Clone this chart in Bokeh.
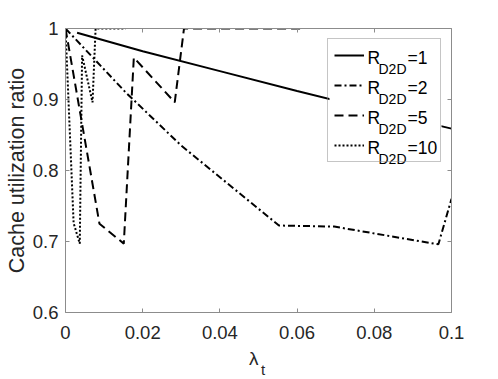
from bokeh.plotting import figure
from bokeh.models import (LinearAxis, FixedTicker, Label, Legend, LegendItem, Range1d, Div,
                          BoxAnnotation)
from bokeh.layouts import column
from bokeh.embed import file_html
from bokeh.resources import INLINE

# ---- data ----
x_ticks = [0, 0.02, 0.04, 0.06, 0.08, 0.1]
x_tick_labels = ["0", "0.02", "0.04", "0.06", "0.08", "0.1"]
y_ticks = [0.6, 0.7, 0.8, 0.9, 1.0]
y_tick_labels = ["0.6", "0.7", "0.8", "0.9", "1"]

series_values = ["1", "2", "5", "10"]

lam_r1 = [0.003, 0.02, 0.04, 0.06, 0.08, 0.1]
util_r1 = [0.994, 0.968, 0.940, 0.912, 0.885, 0.859]

lam_r2 = [0.0, 0.0156, 0.030, 0.0553, 0.0696, 0.0966, 0.1]
util_r2 = [1.0, 0.910, 0.835, 0.7225, 0.721, 0.696, 0.760]

lam_r5 = [0.0, 0.0088, 0.0151, 0.0177, 0.0283, 0.0307, 0.0618]
util_r5 = [1.0, 0.725, 0.697, 0.959, 0.896, 1.0, 1.0]

lam_r10 = [0.0, 0.0021, 0.0037, 0.0043, 0.0070, 0.0078, 0.0156]
util_r10 = [1.0, 0.726, 0.697, 0.962, 0.896, 1.0, 1.0]

FONT = "Liberation Sans"
TXT = "#262626"
AX = "#8c8c8c"
FIG_H = 347

p = figure(width=490, height=FIG_H, output_backend="svg", toolbar_location=None,
           x_range=Range1d(0, 0.1), y_range=Range1d(0.6, 1.0),
           min_border_left=65, min_border_right=39, min_border_top=28,
           min_border_bottom=35)
p.background_fill_color = "white"
p.border_fill_color = "white"
p.outline_line_color = None
p.xgrid.visible = False
p.ygrid.visible = False

def style_axis(ax, ticks, labels, show_labels=True):
    ax.ticker = FixedTicker(ticks=ticks)
    ax.major_label_overrides = {t: l for t, l in zip(ticks, labels)}
    ax.minor_tick_line_color = None
    ax.major_tick_in = 4
    ax.major_tick_out = 0
    ax.major_tick_line_color = AX
    ax.axis_line_color = AX
    ax.axis_line_width = 1
    ax.major_label_text_font = FONT
    ax.major_label_text_color = TXT
    if show_labels:
        ax.major_label_text_font_size = "18.5px"
    else:
        ax.major_label_text_font_size = "0px"
        ax.major_label_standoff = 0

style_axis(p.xaxis[0], x_ticks, x_tick_labels)
style_axis(p.yaxis[0], y_ticks, y_tick_labels)
p.xaxis[0].major_label_standoff = 13
p.yaxis[0].major_label_standoff = 7

p.yaxis[0].axis_label = "Cache utilization ratio"
p.yaxis[0].axis_label_text_font = FONT
p.yaxis[0].axis_label_text_font_size = "21.5px"
p.yaxis[0].axis_label_text_font_style = "normal"
p.yaxis[0].axis_label_text_color = TXT
p.yaxis[0].axis_label_standoff = 1

top_ax = LinearAxis()
right_ax = LinearAxis()
style_axis(top_ax, x_ticks, x_tick_labels, show_labels=False)
style_axis(right_ax, y_ticks, y_tick_labels, show_labels=False)
p.add_layout(top_ax, "above")
p.add_layout(right_ax, "right")

r1 = p.line(lam_r1, util_r1, line_color="black", line_width=2)
r2 = p.line(lam_r2, util_r2, line_color="black", line_width=2, line_dash="7 3 2 3")
r5 = p.line(lam_r5, util_r5, line_color="black", line_width=2, line_dash="9 5")
r10 = p.line(lam_r10, util_r10, line_color="black", line_width=2, line_dash="2 2")

# white backing for the legend (legend itself is transparent so texts stay visible)
LEG_L, LEG_R, LEG_T, LEG_B = 264, 376, 274, 152  # frame-relative screen px
p.add_layout(BoxAnnotation(left=LEG_L, right=LEG_R, top=LEG_T, bottom=LEG_B,
                           left_units="screen", right_units="screen",
                           top_units="screen", bottom_units="screen",
                           fill_color="white", fill_alpha=1.0, line_color=None,
                           level="annotation"))

legend = Legend(items=[LegendItem(label=" ", renderers=[r]) for r in (r1, r2, r5, r10)],
                location="top_right", margin=10, padding=6, spacing=10,
                glyph_width=30, glyph_height=20, label_height=20, label_width=66,
                label_standoff=4, label_text_font_size="10px",
                border_line_color=AX, border_line_width=1,
                background_fill_color="white", background_fill_alpha=0.0)
p.add_layout(legend)

# legend texts with subscripts (screen units, relative to the frame)
for i, v in enumerate(series_values):
    base = 255 - 30 * i
    p.add_layout(Label(x=302, y=base, x_units="screen", y_units="screen", text="R",
                       text_font=FONT, text_font_size="17.5px", text_color="black",
                       text_baseline="alphabetic", level="overlay"))
    p.add_layout(Label(x=313, y=base - 11, x_units="screen", y_units="screen", text="D2D",
                       text_font=FONT, text_font_size="14px", text_color="black",
                       text_baseline="alphabetic", level="overlay"))
    p.add_layout(Label(x=342, y=base, x_units="screen", y_units="screen", text="=" + v,
                       text_font=FONT, text_font_size="17.5px", text_color="black",
                       text_baseline="alphabetic", level="overlay"))

# x-axis label: lambda with subscript t, as HTML below the figure
xlabel_html = (
    '<div style="position:relative; width:490px; height:31px;">'
    '<span style="position:absolute; left:249px; top:2px; font-family:\'Liberation Sans\';'
    ' font-size:19px; line-height:19px; color:#262626;">λ</span>'
    '<span style="position:absolute; left:261px; top:15px; font-family:\'Liberation Sans\';'
    ' font-size:15px; line-height:15px; color:#262626;">t</span>'
    '</div>'
)
xlabel = Div(text=xlabel_html, width=490, height=31, margin=(0, 0, 0, 0))

layout = column(p, xlabel, spacing=0)
open("out.html", "w").write(file_html(layout, INLINE))
